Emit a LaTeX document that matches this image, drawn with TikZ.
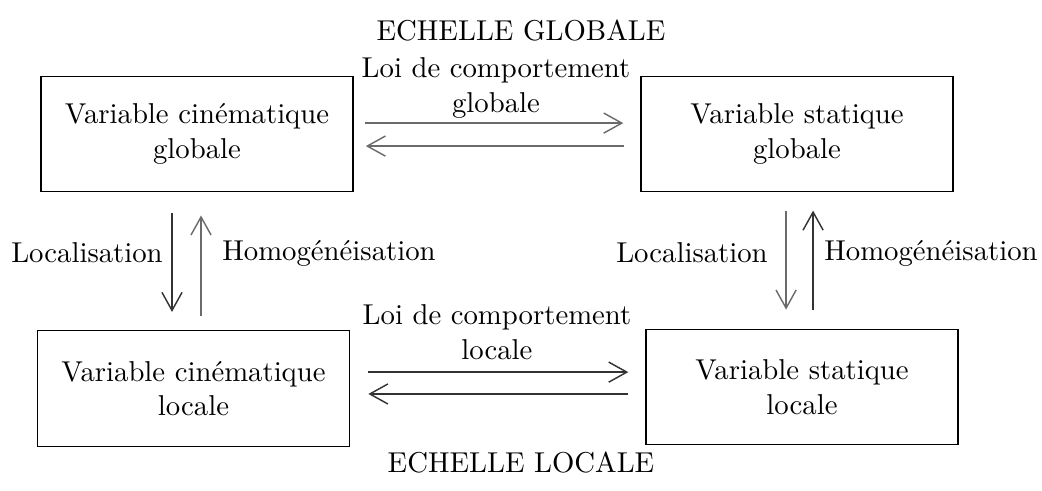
\documentclass[tikz,border=0pt]{standalone}
\usetikzlibrary{arrows.meta}
\definecolor{arrgray}{gray}{0.42}
\definecolor{arrdark}{gray}{0.2}
\begin{document}
\begin{tikzpicture}[x=0.348pt,y=-0.348pt,
  box/.style={draw, line width=0.5pt, minimum width=108.6pt, minimum height=40.2pt, align=center, inner sep=0pt},
  lbl/.style={align=center, inner sep=0pt},
  arr/.style={line width=0.5pt, -{Straight Barb[length=6.3pt,width=7pt,line width=0.5pt]}},
  arrg/.style={arr, draw=arrgray},
  arrd/.style={arr, draw=arrdark}]
\useasboundingbox (0,0) rectangle (1042,490);
\node[box] (TL) at (197,134) {Variable cinématique\\globale};
\node[box] (TR) at (797,134) {Variable statique\\globale};
\node[box] (BL) at (193.5,388.5) {Variable cinématique\\locale};
\node[box] (BR) at (802,387) {Variable statique\\locale};
\node[lbl] (T1) at (521,31) {ECHELLE GLOBALE};
\node[lbl] (T2) at (521,463) {ECHELLE LOCALE};
\node[lbl] (LG) at (496,88) {Loi de comportement\\globale};
\node[lbl] (LL) at (497,332) {Loi de comportement\\locale};
\node[lbl] (LOC1) at (87,253) {Localisation};
\node[lbl] (HOM1) at (329,253) {Homogénéisation};
\node[lbl] (LOC2) at (692,253) {Localisation};
\node[lbl] (HOM2) at (931,253) {Homogénéisation};
% top horizontal
\draw[arrg, shorten <=3.8pt, shorten >=5.9pt] ([yshift=3.8pt]TL.east) -- ([yshift=3.8pt]TR.west);
\draw[arrg, shorten <=5.6pt, shorten >=4.2pt] ([yshift=-4.2pt]TR.west) -- ([yshift=-4.2pt]TL.east);
% bottom horizontal
\draw[arrd, shorten <=6.3pt, shorten >=5.9pt] ([yshift=5.7pt]BL.east) -- ([yshift=5.7pt]BL.east -| BR.west);
\draw[arrd, shorten <=5.9pt, shorten >=6.3pt] ([yshift=-1.9pt]BL.east -| BR.west) -- ([yshift=-1.9pt]BL.east);
% left vertical
\draw[arrd, shorten <=7.3pt, shorten >=6.3pt] ([xshift=-8.7pt]TL.south) -- ([xshift=-8.7pt]TL.south |- BL.north);
\draw[arrg, shorten <=4.9pt, shorten >=8pt] ([xshift=1.4pt]TL.south |- BL.north) -- ([xshift=1.4pt]TL.south);
% right vertical
\draw[arrg, shorten <=6.3pt, shorten >=6.6pt] ([xshift=-3.8pt]TR.south) -- ([xshift=-3.8pt]TR.south |- BR.north);
\draw[arrd, shorten <=6.3pt, shorten >=6.3pt] ([xshift=5.6pt]TR.south |- BR.north) -- ([xshift=5.6pt]TR.south);
\end{tikzpicture}
\end{document}
